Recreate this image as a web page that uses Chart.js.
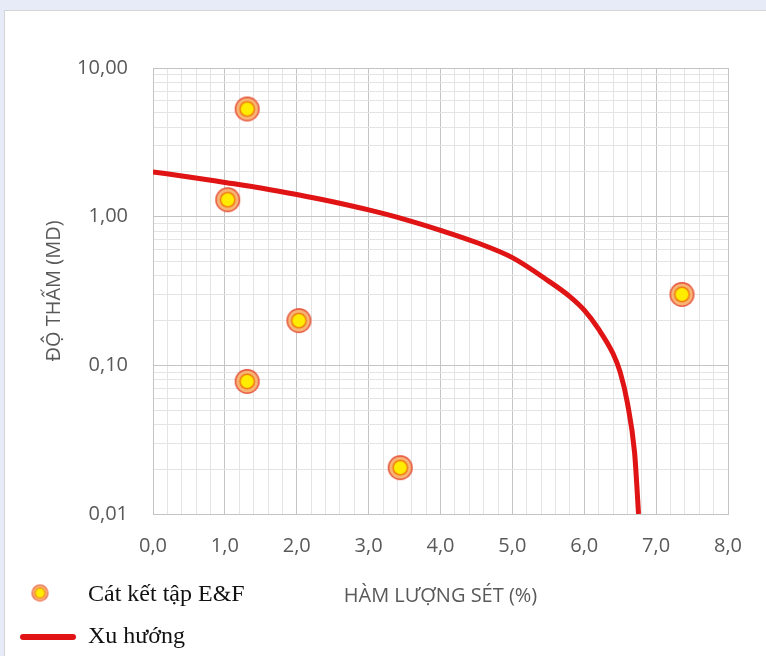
<!DOCTYPE html>
<html>
<head>
<meta charset="utf-8">
<script src="https://cdn.jsdelivr.net/npm/chart.js@4.4.1/dist/chart.umd.min.js"></script>
<style>
    html, body { margin: 0; padding: 0; background: #e7ebf7; }
    .panel {
        position: absolute; left: 4px; top: 10px;
        width: 762px; height: 646px;
        background: #fff;
        border-left: 1px solid #d4d4d4;
        border-top: 1px solid #d4d4d4;
    }
    canvas { display: block; }
</style>
</head>
<body>
<div class="panel"><canvas id="chart" width="761" height="645"></canvas></div>
<script>
// Sample points (clay content %, permeability mD)
const clayPct = [1.31, 1.04, 2.03, 1.31, 3.44, 7.36];
const permeability = [5.3, 1.3, 0.20, 0.078, 0.0205, 0.30];

// Trend line
const trendX = [0, 0.5, 1, 1.5, 2, 2.5, 3, 3.5, 4, 4.5, 5, 5.5, 5.8, 6, 6.2, 6.4, 6.5, 6.6, 6.7, 6.73, 6.755];
const trendY = [2.0, 1.85, 1.70, 1.56, 1.41, 1.26, 1.11, 0.96, 0.81, 0.67, 0.53, 0.37, 0.29, 0.235, 0.175, 0.12, 0.09, 0.056, 0.026, 0.016, 0.01];

// Axis ticks
const xTickValues = [0, 1, 2, 3, 4, 5, 6, 7, 8];
const xTickLabels = ['0,0', '1,0', '2,0', '3,0', '4,0', '5,0', '6,0', '7,0', '8,0'];
const yTickValues = [0.01, 0.1, 1, 10];
const yTickLabels = ['0,01', '0,10', '1,00', '10,00'];

const seriesNames = ['Cát kết tập E&F', 'Xu hướng'];
const xTitle = 'HÀM LƯỢNG SÉT (%)';
const yTitle = 'ĐỘ THẤM (MD)';

const textColor = '#595959';
const majorGrid = '#c4c4c4';
const minorGrid = '#e4e4e4';
const trendColor = '#e01414';

function makeMarker(r) {
    const c = document.createElement('canvas');
    const s = Math.ceil(r * 2 + 2);
    c.width = c.height = s;
    const g = c.getContext('2d');
    const m = s / 2;
    const rings = [[1, '#e6573f'], [0.87, '#f8b676'], [0.64, '#f07c12'], [0.52, '#ffec00']];
    rings.forEach(function(ring) {
        g.beginPath();
        g.arc(m, m, r * ring[0], 0, Math.PI * 2);
        g.fillStyle = ring[1];
        g.fill();
    });
    return c;
}

const marker = makeMarker(12.5);
const legendMarker = makeMarker(8.5);

function labelFor(values, labels, v) {
    for (let i = 0; i < values.length; i++) {
        if (Math.abs(values[i] - v) < values[i] * 1e-6 + 1e-9) return labels[i];
    }
    return '';
}

// Legend drawn at the bottom left, like the original
const legendPlugin = {
    id: 'bottomLegend',
    afterDraw(chart) {
        const ctx = chart.ctx;
        ctx.save();
        ctx.drawImage(legendMarker, 35 - legendMarker.width / 2, 582 - legendMarker.height / 2);
        ctx.strokeStyle = trendColor;
        ctx.lineWidth = 6;
        ctx.lineCap = 'round';
        ctx.beginPath();
        ctx.moveTo(18, 626);
        ctx.lineTo(68, 626);
        ctx.stroke();
        ctx.fillStyle = '#111';
        ctx.font = '24px "Liberation Serif"';
        ctx.textBaseline = 'middle';
        ctx.fillText(seriesNames[0], 83, 584);
        ctx.fillText(seriesNames[1], 83, 626);
        ctx.restore();
    }
};

const ctx = document.getElementById('chart').getContext('2d');

new Chart(ctx, {
    type: 'scatter',
    data: {
        datasets: [{
            label: seriesNames[1],
            type: 'line',
            data: trendX.map((x, i) => ({ x: x, y: trendY[i] })),
            borderColor: trendColor,
            borderWidth: 5,
            pointRadius: 0,
            cubicInterpolationMode: 'monotone',
            fill: false,
            order: 2
        }, {
            label: seriesNames[0],
            data: clayPct.map((x, i) => ({ x: x, y: permeability[i] })),
            pointStyle: marker,
            pointRadius: 12.5,
            order: 1
        }]
    },
    options: {
        responsive: false,
        animation: false,
        layout: { padding: { left: 0, top: 57, right: 38, bottom: 30 } },
        plugins: {
            legend: { display: false },
            tooltip: { enabled: false }
        },
        scales: {
            x: {
                type: 'linear',
                min: 0,
                max: 8,
                afterBuildTicks(scale) {
                    const ticks = [];
                    for (let i = 0; i <= 40; i++) ticks.push({ value: Math.round(i * 2) / 10 });
                    scale.ticks = ticks;
                },
                afterFit(scale) { scale.height = 112; },
                ticks: {
                    autoSkip: false,
                    maxRotation: 0,
                    padding: 20,
                    color: textColor,
                    font: { family: '"Open Sans"', size: 20 },
                    callback: (v) => labelFor(xTickValues, xTickLabels, v)
                },
                grid: {
                    drawTicks: false,
                    color: (c) => (c.tick && Math.abs(c.tick.value - Math.round(c.tick.value)) < 1e-6) ? majorGrid : minorGrid
                },
                border: { color: majorGrid },
                title: {
                    display: true,
                    text: xTitle,
                    color: textColor,
                    font: { family: '"Open Sans"', size: 20 },
                    padding: { top: 0, bottom: 18 }
                }
            },
            y: {
                type: 'logarithmic',
                min: 0.01,
                max: 10,
                afterBuildTicks(scale) {
                    const ticks = [];
                    for (let d = 0; d < yTickValues.length - 1; d++) {
                        for (let k = 1; k <= 9; k++) ticks.push({ value: yTickValues[d] * k });
                    }
                    ticks.push({ value: yTickValues[yTickValues.length - 1] });
                    scale.ticks = ticks;
                },
                afterFit(scale) { scale.width = 148; },
                ticks: {
                    autoSkip: false,
                    padding: 25,
                    color: textColor,
                    font: { family: '"Open Sans"', size: 20 },
                    callback: (v) => labelFor(yTickValues, yTickLabels, v)
                },
                grid: {
                    drawTicks: false,
                    color: (c) => (c.tick && labelFor(yTickValues, yTickLabels, c.tick.value)) ? majorGrid : minorGrid
                },
                border: { color: majorGrid },
                title: {
                    display: true,
                    text: yTitle,
                    color: textColor,
                    font: { family: '"Open Sans"', size: 20 },
                    padding: { top: 37, bottom: 0 }
                }
            }
        }
    },
    plugins: [legendPlugin]
});
</script>
</body>
</html>
